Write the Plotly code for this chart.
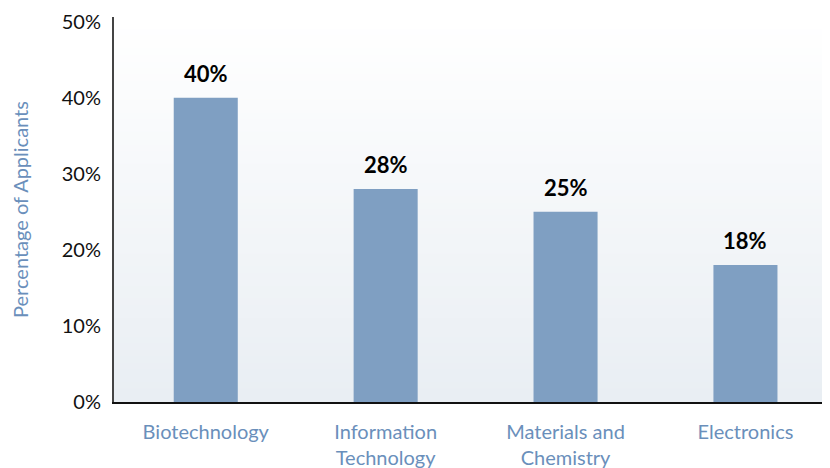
import plotly.graph_objects as go

categories = ["Biotechnology", "Information<br>Technology", "Materials and<br>Chemistry", "Electronics"]
values = [40, 28, 25, 18]
value_labels = ["40%", "28%", "25%", "18%"]
y_ticks = [0, 10, 20, 30, 40, 50]
y_tick_labels = ["0%", "10%", "20%", "30%", "40%", "50%"]

FONT = "Lato, 'Open Sans', sans-serif"
BLUE_TEXT = "#6a8fbb"

fig = go.Figure()
fig.add_trace(go.Bar(
    x=categories, y=values,
    marker=dict(color="#7f9fc2", line=dict(width=0)),
    width=0.356,
    cliponaxis=False,
))

for c, v, lab in zip(categories, values, value_labels):
    fig.add_annotation(x=c, y=v, text="<b>%s</b>" % lab, showarrow=False,
                       yanchor="bottom", yshift=9,
                       font=dict(family=FONT, size=22, color="#000000"))

# vertical gradient background (white at top -> pale blue-grey at bottom)
n = 60
top = (255, 255, 255)
bot = (233, 238, 243)
shapes = []
for i in range(n):
    t = i / (n - 1)
    c = tuple(round(top[k] + (bot[k] - top[k]) * t) for k in range(3))
    shapes.append(dict(
        type="rect", xref="x domain", yref="y domain",
        x0=0, x1=1, y0=1 - (i + 1) / n, y1=1 - i / n + 0.002,
        fillcolor="rgb(%d,%d,%d)" % c, line=dict(width=0), layer="below",
    ))

# page body has an 8px default margin, so the figure is 8px smaller and offset
fig.update_layout(
    width=822, height=460,
    margin=dict(l=106, r=0, t=9, b=66, autoexpand=False),
    paper_bgcolor="white", plot_bgcolor="white",
    shapes=shapes, showlegend=False,
    font=dict(family=FONT),
    xaxis=dict(
        range=[-0.51, 3.47], showgrid=False, zeroline=False, automargin=False,
        showline=True, linecolor="#111111", linewidth=2,
        ticks="outside", ticklen=11, tickcolor="rgba(0,0,0,0)",
        tickfont=dict(family=FONT, size=20, color=BLUE_TEXT),
    ),
    yaxis=dict(
        range=[0, 50.6], tickvals=y_ticks, ticktext=y_tick_labels,
        showgrid=False, zeroline=False, automargin=False,
        showline=True, linecolor="#444444", linewidth=2,
        ticks="outside", ticklen=7, tickcolor="rgba(0,0,0,0)",
        tickfont=dict(family=FONT, size=20, color="#111111"),
        title=dict(text="Percentage of Applicants", standoff=28,
                   font=dict(family=FONT, size=20, color=BLUE_TEXT)),
    ),
)

fig.write_html("out.html")
